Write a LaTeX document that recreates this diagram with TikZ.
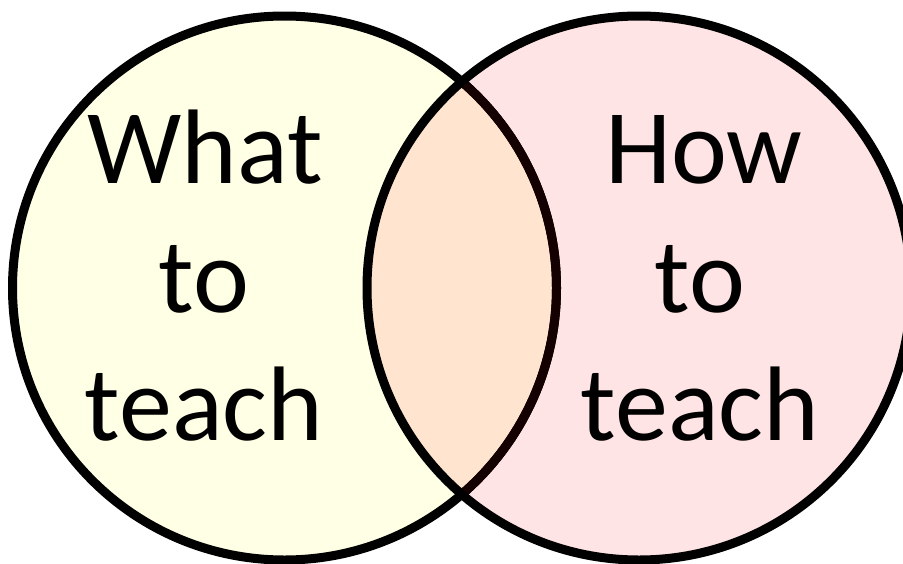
\documentclass[tikz,border=0pt]{standalone}
\usepackage{fontspec}
\setmainfont{Carlito}
\definecolor{leftfill}{HTML}{FFFFE5}
\definecolor{rightfill}{HTML}{FFE4E5}
\definecolor{overlapfill}{HTML}{FFE5CF}
\definecolor{darkline}{HTML}{140000}
\begin{document}
\begin{tikzpicture}[x=1pt,y=-1pt,
  ring/.style={line width=9pt,draw=black},
  lbl/.style={anchor=base,inner sep=0pt,font=\fontsize{106}{128}\selectfont}]
\useasboundingbox (0,0) rectangle (903,563);
\clip (0,0) rectangle (903,563);
\coordinate (cl) at (284.5,288);
\coordinate (cr) at (639,288);
% fills
\fill[leftfill] (cl) circle[radius=272];
\fill[rightfill] (cr) circle[radius=272];
\begin{scope}
  \clip (cl) circle[radius=272];
  \fill[overlapfill] (cr) circle[radius=272];
\end{scope}
% outlines
\draw[ring] (cl) circle[radius=272];
\begin{scope}
  \clip (cr) circle[radius=272];
  \draw[ring,draw=darkline] (cl) circle[radius=272];
\end{scope}
\draw[ring] (cr) circle[radius=272];
% labels
\node[lbl] (w1) at (205,183) {What};
\node[lbl] (w2) at (204,312) {to};
\node[lbl] (w3) at (204,440) {teach};
\node[lbl] (h1) at (704,183) {How};
\node[lbl] (h2) at (700,312) {to};
\node[lbl] (h3) at (700,440) {teach};
\end{tikzpicture}
\end{document}
